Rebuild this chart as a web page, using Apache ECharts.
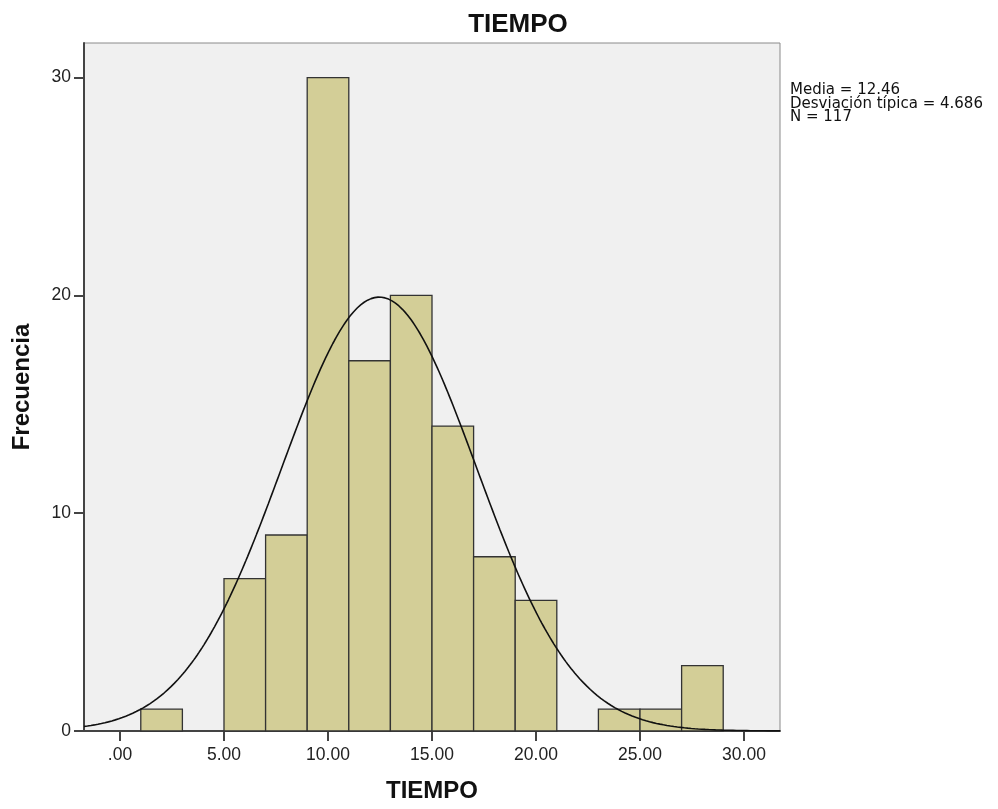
<!DOCTYPE html>
<html><head><meta charset="utf-8">
<script src="https://cdn.jsdelivr.net/npm/echarts@6/dist/echarts.min.js"></script>
<style>html,body{margin:0;padding:0;background:#fff}#c{width:998px;height:809px}</style>
</head><body><div id="c"></div>
<script>
// Histogram bins (start, end) and frequencies
var binStarts = [1, 5, 7, 9, 11, 13, 15, 17, 19, 23, 25, 27];
var binEnds   = [3, 7, 9, 11, 13, 15, 17, 19, 21, 25, 27, 29];
var counts    = [1, 7, 9, 30, 17, 20, 14, 8, 6, 1, 1, 3];
var xTicks = [0, 5, 10, 15, 20, 25, 30];
var yTicks = [0, 10, 20, 30];
var mean = 12.46, sd = 4.686, n = 117, binWidth = 2;
var statsLines = ['Media = 12.46', 'Desviación típica = 4.686', 'N = 117'];

var xMin = -1.73, xMax = 31.73, yMax = 31.59;

var barData = binStarts.map(function (s, i) { return [s, binEnds[i], counts[i]]; });
// fitted normal curve from stated mean / sd / N
var curve = [];
for (var k = 0; k <= 400; k++) {
  var x = xMin + (xMax - xMin) * k / 400;
  var z = (x - mean) / sd;
  curve.push([x, n * binWidth * Math.exp(-0.5 * z * z) / (sd * Math.sqrt(2 * Math.PI))]);
}

var font = 'Liberation Sans, Arial, sans-serif';
var chart = echarts.init(document.getElementById('c'));
chart.setOption({
  animation: false,
  title: { text: 'TIEMPO', left: 513, textAlign: 'center', top: 7,
    textStyle: { fontFamily: font, fontSize: 26, fontWeight: 'bold', color: '#111' } },
  grid: { left: 84, right: 218, top: 43, bottom: 78, show: true, containLabel: false,
    outerBoundsMode: 'none',
    backgroundColor: '#f0f0f0', borderColor: '#8a8a8a', borderWidth: 1 },
  xAxis: {
    type: 'value', min: xMin, max: xMax,
    name: 'TIEMPO', nameLocation: 'middle', nameGap: 48,
    nameTextStyle: { fontFamily: font, fontSize: 24, fontWeight: 'bold', color: '#111' },
    axisLine: { show: true, onZero: false, lineStyle: { color: '#444', width: 2 } },
    axisTick: { show: true, inside: false, length: 10, customValues: xTicks, lineStyle: { color: '#444', width: 2 } },
    axisLabel: { customValues: xTicks, margin: 15, fontFamily: font, fontSize: 17.5, color: '#222',
      formatter: function (v) { return v === 0 ? '.00' : v.toFixed(2); } },
    splitLine: { show: false }
  },
  yAxis: {
    type: 'value', min: 0, max: yMax,
    name: 'Frecuencia', nameLocation: 'middle', nameGap: 50, nameRotate: 90,
    nameTextStyle: { fontFamily: font, fontSize: 24, fontWeight: 'bold', color: '#111' },
    axisLine: { show: true, onZero: false, lineStyle: { color: '#444', width: 2 } },
    axisTick: { show: true, inside: false, length: 10, customValues: yTicks, lineStyle: { color: '#444', width: 2 } },
    axisLabel: { customValues: yTicks, margin: 13, fontFamily: font, fontSize: 17.5, color: '#222' },
    splitLine: { show: false }
  },
  graphic: [{
    type: 'text', left: 790, top: 83,
    style: { text: statsLines.join('\n'), fontFamily: 'DejaVu Sans, Verdana, sans-serif',
      fontSize: 15, lineHeight: 13.5, fill: '#111' }
  }],
  series: [{
    type: 'custom',
    data: barData,
    encode: { x: [0, 1], y: 2 },
    renderItem: function (params, api) {
      var p0 = api.coord([api.value(0), api.value(2)]);
      var p1 = api.coord([api.value(1), 0]);
      return { type: 'rect',
        shape: { x: p0[0], y: p0[1], width: p1[0] - p0[0], height: p1[1] - p0[1] },
        style: { fill: '#d3ce97', stroke: '#333', lineWidth: 1.3 } };
    },
    z: 2
  }, {
    type: 'line', data: curve, showSymbol: false, smooth: false,
    lineStyle: { color: '#111', width: 1.6 }, z: 3, silent: true
  }]
});
</script></body></html>
